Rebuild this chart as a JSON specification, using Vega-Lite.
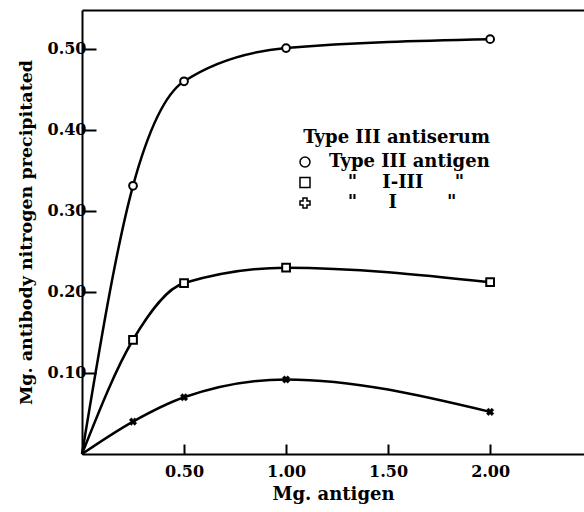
{
  "$schema": "https://vega.github.io/schema/vega-lite/v6.json",
  "width": 502,
  "height": 444,
  "autosize": {"type": "none"},
  "padding": {"left": 82, "top": 10, "right": 0, "bottom": 58},
  "background": "white",
  "config": {
    "view": {"stroke": null},
    "font": "DejaVu Serif",
    "axis": {
      "grid": false,
      "domainColor": "black",
      "domainWidth": 2,
      "tickColor": "black",
      "tickWidth": 2,
      "labelColor": "black",
      "titleColor": "black",
      "labelFont": "DejaVu Serif",
      "labelFontSize": 16,
      "labelFontWeight": "bold",
      "titleFont": "DejaVu Serif",
      "titleFontSize": 18,
      "titleFontWeight": "bold"
    },
    "legend": {
      "orient": "none",
      "legendX": 214,
      "legendY": 119,
      "titleFont": "DejaVu Serif",
      "titleFontSize": 18,
      "titleFontWeight": "bold",
      "titleColor": "black",
      "titleAnchor": "end",
      "titlePadding": 6,
      "titleLimit": 400,
      "labelFont": "DejaVu Serif",
      "labelFontSize": 18,
      "labelFontWeight": "bold",
      "labelColor": "black",
      "labelLimit": 400,
      "labelOffset": 15,
      "rowPadding": 2.5
    }
  },
  "data": {
    "values": [
      {"series": "Type III antigen", "antigen": 0, "nitrogen": 0},
      {"series": "Type III antigen", "antigen": 0.25, "nitrogen": 0.331},
      {"series": "Type III antigen", "antigen": 0.5, "nitrogen": 0.46},
      {"series": "Type III antigen", "antigen": 1.0, "nitrogen": 0.501},
      {"series": "Type III antigen", "antigen": 2.0, "nitrogen": 0.512},
      {"series": "I-III", "antigen": 0, "nitrogen": 0},
      {"series": "I-III", "antigen": 0.25, "nitrogen": 0.141},
      {"series": "I-III", "antigen": 0.5, "nitrogen": 0.211},
      {"series": "I-III", "antigen": 1.0, "nitrogen": 0.23},
      {"series": "I-III", "antigen": 2.0, "nitrogen": 0.212},
      {"series": "I", "antigen": 0, "nitrogen": 0},
      {"series": "I", "antigen": 0.25, "nitrogen": 0.04},
      {"series": "I", "antigen": 0.5, "nitrogen": 0.07},
      {"series": "I", "antigen": 1.0, "nitrogen": 0.092},
      {"series": "I", "antigen": 2.0, "nitrogen": 0.052}
    ]
  },
  "encoding": {
    "x": {
      "field": "antigen",
      "type": "quantitative",
      "scale": {"domain": [0, 2.46], "nice": false, "zero": true},
      "axis": {
        "title": "Mg. antigen",
        "values": [0.5, 1, 1.5, 2],
        "format": ".2f",
        "tickSize": -10,
        "labelPadding": 19,
        "titlePadding": 6
      }
    },
    "y": {
      "field": "nitrogen",
      "type": "quantitative",
      "scale": {"domain": [0, 0.548], "nice": false},
      "axis": {
        "title": "Mg. antibody nitrogen precipitated",
        "titleFontSize": 17.5,
        "values": [0.1, 0.2, 0.3, 0.4, 0.5],
        "format": ".2f",
        "tickSize": -14,
        "labelPadding": 10,
        "titlePadding": 12
      }
    }
  },
  "layer": [
    {
      "mark": {"type": "line", "interpolate": "monotone", "color": "black", "strokeWidth": 2.5},
      "encoding": {"detail": {"field": "series"}}
    },
    {
      "transform": [{"filter": "datum.antigen > 0"}],
      "mark": {"type": "point", "filled": false, "color": "black", "fill": "white", "fillOpacity": 1, "strokeWidth": 2, "size": 60},
      "encoding": {
        "x": {
          "field": "antigen",
          "type": "quantitative",
          "axis": {"orient": "top", "labels": false, "ticks": false, "title": null, "domain": true}
        },
        "fill": {"condition": {"test": "datum.series == 'I'", "value": "black"}, "value": "white"},
        "strokeWidth": {"condition": {"test": "datum.series == 'I'", "value": 0.3}, "value": 2},
        "angle": {"condition": {"test": "datum.series == 'I'", "value": 45}, "value": 0},
        "shape": {
          "field": "series",
          "type": "nominal",
          "scale": {
            "domain": ["Type III antigen", "I-III", "I"],
            "range": ["circle", "square", "cross"]
          },
          "legend": {
            "title": "Type III antiserum",
            "labelExpr": "datum.label == 'I-III' ? '\u200b\u00a0\u00a0\u00a0\"\u00a0\u00a0\u00a0\u00a0I-III\u00a0\u00a0\u00a0\u00a0\u00a0\"' : datum.label == 'I' ? '\u200b\u00a0\u00a0\u00a0\"\u00a0\u00a0\u00a0\u00a0\u00a0I\u00a0\u00a0\u00a0\u00a0\u00a0\u00a0\u00a0\u00a0\"' : datum.label",
            "encode": {
              "symbols": {
                "update": {
                  "angle": {"signal": "datum.value == 'I' ? 45 : 0"},
                  "fill": {"signal": "datum.value == 'I' ? 'black' : 'white'"},
                  "stroke": {"value": "black"},
                  "strokeWidth": {"signal": "datum.value == 'I' ? 0.3 : 2"}
                }
              }
            }
          }
        }
      }
    }
  ],
  "resolve": {"axis": {"x": "independent"}}
}
